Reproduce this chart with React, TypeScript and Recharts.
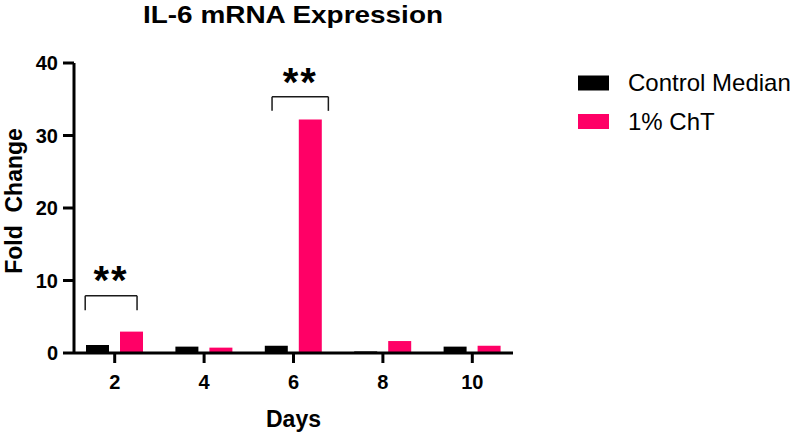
import {
  Bar,
  BarChart,
  ReferenceDot,
  ReferenceLine,
  XAxis,
  YAxis,
} from "recharts";

const days = ["2", "4", "6", "8", "10"];
const controlMedian = [1.1, 0.88, 1.0, 0.22, 0.88];
const oneChT = [2.95, 0.74, 32.2, 1.65, 1.0];
const yTicks = [0, 10, 20, 30, 40];

const seriesNames = ["Control Median", "1% ChT"];
const seriesColors = ["#000000", "#ff0066"];

// significance brackets: day, horizontal span as fraction of a band, heights in data units
const sigDays = ["2", "6"];
const sigFrom = [-0.33, -0.24];
const sigTo = [0.25, 0.39];
const sigTop = [7.9, 35.35];
const sigFoot = [5.9, 33.4];
const sigStarY = [11.2, 38.5];

const FONT = '"Liberation Sans", Arial, sans-serif';

const data = days.map((day, i) => ({
  day,
  slot: i + 0.5,
  control: controlMedian[i],
  cht: oneChT[i],
}));

function bandPos(day: string, frac: number) {
  return days.indexOf(day) + 0.5 + frac;
}

export default function App() {
  const pad = { left: -4, right: -4 };

  return (
    <div
      style={{
        position: "absolute",
        left: 0,
        top: 0,
        width: 791,
        height: 436,
        background: "#ffffff",
        fontFamily: FONT,
      }}
    >
      <BarChart
        width={791}
        height={436}
        data={data}
        margin={{ top: 63, right: 278, bottom: 0, left: 0 }}
        barGap={11}
        barSize={23}
      >
        <XAxis
          dataKey="day"
          height={83}
          padding={pad}
          tick={{ fontSize: 20, fontWeight: 700, fill: "#000", fontFamily: FONT }}
          tickSize={10}
          tickMargin={12}
          axisLine={{ stroke: "#000", strokeWidth: 3 }}
          tickLine={{ stroke: "#000", strokeWidth: 3 }}
          label={({ viewBox }: any) => (
            <text
              x={viewBox.x + viewBox.width / 2}
              y={viewBox.y + 74}
              textAnchor="middle"
              fontSize={23}
              fontWeight={700}
              fontFamily={FONT}
              fill="#000"
            >
              Days
            </text>
          )}
        />
        <XAxis
          xAxisId="ann"
          dataKey="slot"
          type="number"
          domain={[0, days.length]}
          allowDataOverflow
          padding={pad}
          hide
        />
        <YAxis
          width={74}
          domain={[0, 40]}
          ticks={yTicks}
          interval={0}
          tick={{ fontSize: 20, fontWeight: 700, fill: "#000", fontFamily: FONT }}
          tickSize={11}
          tickMargin={5}
          axisLine={{ stroke: "#000", strokeWidth: 3 }}
          tickLine={{ stroke: "#000", strokeWidth: 3 }}
          label={() => {
            const cx = 22;
            const cy = 201;
            return (
              <text
                x={cx}
                y={cy}
                transform={`rotate(-90 ${cx} ${cy})`}
                textAnchor="middle"
                fontSize={23}
                fontWeight={700}
                fontFamily={FONT}
                fill="#000"
                xmlSpace="preserve"
                style={{ whiteSpace: "pre" }}
              >
                {"Fold  Change"}
              </text>
            );
          }}
        />
        <Bar
          dataKey="control"
          name={seriesNames[0]}
          fill={seriesColors[0]}
          isAnimationActive={false}
        />
        <Bar
          dataKey="cht"
          name={seriesNames[1]}
          fill={seriesColors[1]}
          isAnimationActive={false}
        />

        {sigDays.map((day, i) => {
          const x1 = bandPos(day, sigFrom[i]);
          const x2 = bandPos(day, sigTo[i]);
          const line = { stroke: "#1a1a1a", strokeWidth: 1.5, xAxisId: "ann" };
          return [
            <ReferenceLine
              key={`l${i}`}
              {...line}
              segment={[
                { x: x1, y: sigFoot[i] },
                { x: x1, y: sigTop[i] },
              ]}
            />,
            <ReferenceLine
              key={`t${i}`}
              {...line}
              segment={[
                { x: x1, y: sigTop[i] },
                { x: x2, y: sigTop[i] },
              ]}
            />,
            <ReferenceLine
              key={`r${i}`}
              {...line}
              segment={[
                { x: x2, y: sigTop[i] },
                { x: x2, y: sigFoot[i] },
              ]}
            />,
            <ReferenceDot
              key={`s${i}`}
              xAxisId="ann"
              x={(x1 + x2) / 2}
              y={sigStarY[i]}
              r={0}
              shape={(p: any) => (
                <text
                  x={p.cx}
                  y={p.cy + 22}
                  textAnchor="middle"
                  fontSize={40}
                  fontWeight={700}
                  fontFamily={FONT}
                  letterSpacing={2}
                  fill="#000"
                >
                  **
                </text>
              )}
            />,
          ];
        })}
      </BarChart>

      <svg
        width={791}
        height={436}
        style={{ position: "absolute", left: 0, top: 0, pointerEvents: "none" }}
      >
        <text
          x={293}
          y={23}
          textAnchor="middle"
          fontSize={24}
          fontWeight={700}
          fontFamily={FONT}
          fill="#000"
          textLength={300}
          lengthAdjust="spacingAndGlyphs"
        >
          IL-6 mRNA Expression
        </text>
        {seriesNames.map((name, i) => (
          <g key={name}>
            <rect
              x={578}
              y={75.5 + i * 38.5}
              width={31}
              height={15}
              fill={seriesColors[i]}
            />
            <text
              x={628}
              y={91 + i * 38.5}
              fontSize={24}
              fontFamily={FONT}
              fill="#000"
            >
              {name}
            </text>
          </g>
        ))}
      </svg>
    </div>
  );
}
